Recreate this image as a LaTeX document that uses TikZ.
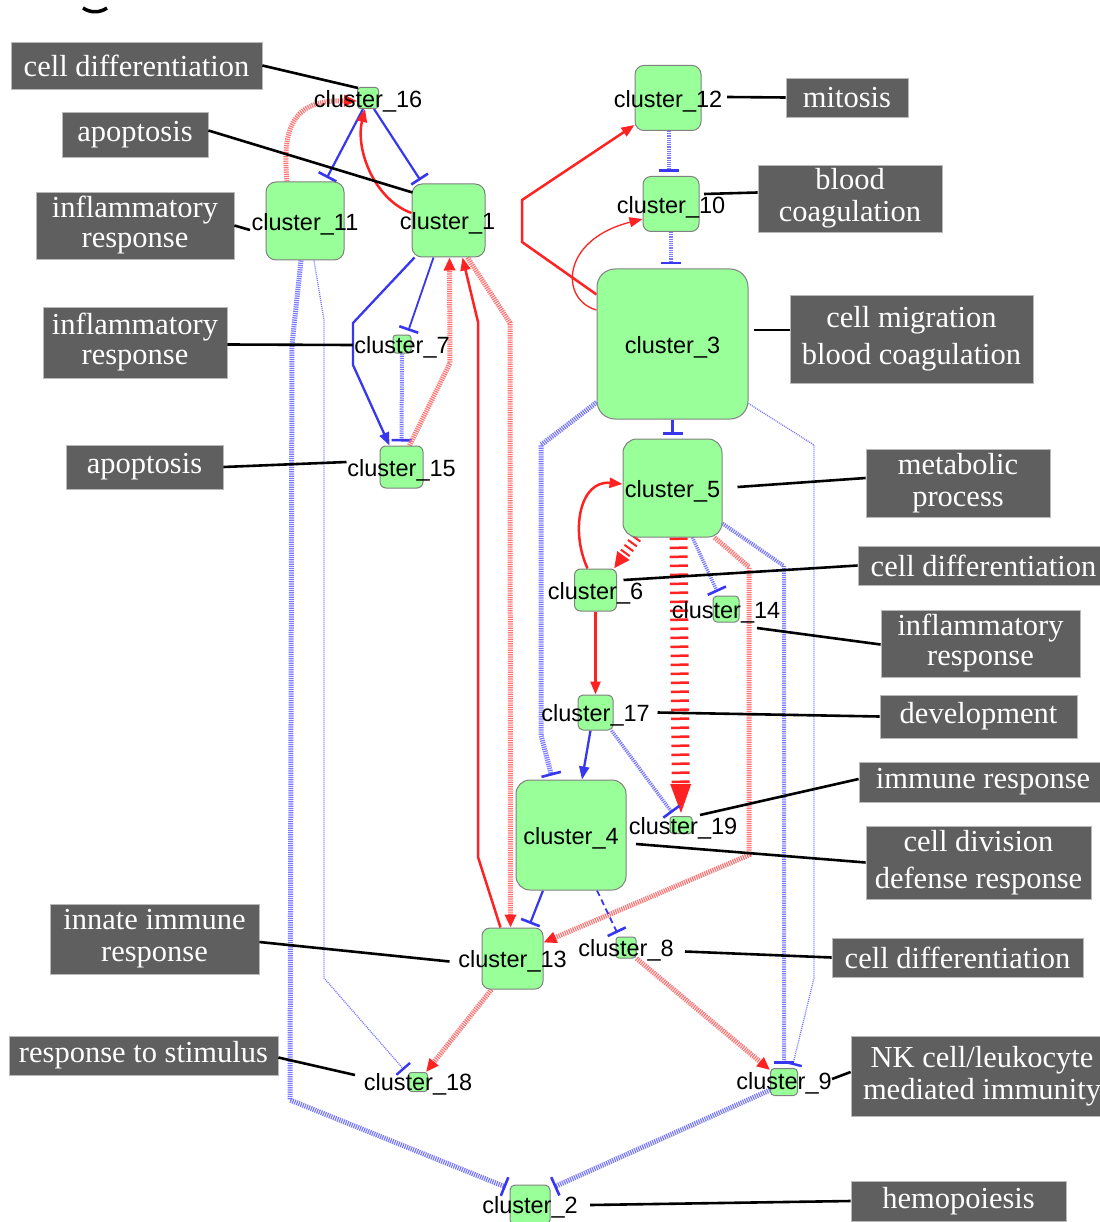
\documentclass[tikz,border=0pt]{standalone}
\usepackage{fontspec}
\setmainfont{Liberation Serif}
\newfontfamily\lsans{Liberation Sans}
\usetikzlibrary{arrows.meta,calc}
\definecolor{redS}{RGB}{255,34,34}
\definecolor{blueS}{RGB}{55,55,240}
\definecolor{pred}{RGB}{255,115,115}
\definecolor{pblue}{RGB}{120,120,255}
\definecolor{ngreen}{RGB}{153,255,153}
\definecolor{nborder}{RGB}{128,128,128}
\definecolor{anngray}{RGB}{95,95,95}
\pgfdeclarelayer{bg}
\pgfsetlayers{bg,main}
\begin{document}
\begin{tikzpicture}[x=1pt,y=-1pt,
 cl/.style={draw=nborder, fill=ngreen, line width=1pt, inner sep=0pt},
 ctext/.style={font=\lsans\fontsize{23.5pt}{26pt}\selectfont, inner sep=0pt, text=black},
 ann/.style={fill=anngray, draw=gray!55, line width=0.8pt, text=white, align=center, inner sep=0pt, font=\fontsize{30.5pt}{32pt}\selectfont},
 annwide/.style={ann, font=\fontsize{30.5pt}{37pt}\selectfont},
 lead/.style={line width=2.6pt, draw=black},
 act/.style={draw=redS, line width=2.5pt, -{Triangle[length=13pt,width=10pt]}},
 tact/.style={draw=redS, line width=1.3pt, -{Triangle[length=13pt,width=10pt]}},
 bact/.style={draw=blueS, line width=2.3pt, -{Triangle[length=13pt,width=10pt]}},
 inh/.style={draw=blueS, line width=2.2pt, -{Bar[width=20pt,line width=2.6pt]}, shorten >=4pt},
 pact/.style={draw=pred, line width=5pt, dash pattern=on 1.2pt off 1pt, -{Triangle[length=13pt,width=11pt,color=redS]}},
 pinh/.style={draw=pblue, line width=5pt, dash pattern=on 1.2pt off 1pt, -{Bar[width=20pt,line width=2.6pt,color=blueS]}, shorten >=4pt},
 tinh/.style={draw=pblue, line width=1.3pt, dash pattern=on 1pt off 1pt, -{Bar[width=18pt,line width=2.4pt,color=blueS]}, shorten >=3pt},
 ladder/.style={draw=redS, line width=18pt, dash pattern=on 2.5pt off 6.5pt, -{Triangle[length=32pt,width=18pt,color=redS]}},
 ladsmall/.style={draw=redS, line width=11pt, dash pattern=on 2pt off 4pt, -{Triangle[length=16pt,width=14pt,color=redS]}}
]
\useasboundingbox (0,0) rectangle (1099,1222);
\begin{pgfonlayer}{bg}
\fill[white] (0,0) rectangle (1099,1222);
\end{pgfonlayer}

% small black mark at top
\draw[line width=3.5pt] (83,8) .. controls (90,13) and (100,13) .. (107,8);

% cluster boxes
\node[cl, minimum width=21pt, minimum height=21pt, rounded corners=3pt] (c16) at (368,98) {};
\node[cl, minimum width=78pt, minimum height=78pt, rounded corners=10pt] (c11) at (305,221) {};
\node[cl, minimum width=73pt, minimum height=73pt, rounded corners=10pt] (c1) at (448.5,220.5) {};
\node[cl, minimum width=18pt, minimum height=18pt, rounded corners=3pt] (c7) at (402,344) {};
\node[cl, minimum width=43pt, minimum height=42pt, rounded corners=6pt] (c15) at (401.5,467) {};
\node[cl, minimum width=66pt, minimum height=65pt, rounded corners=9pt] (c12) at (668,98) {};
\node[cl, minimum width=56pt, minimum height=55pt, rounded corners=8pt] (c10) at (671,204) {};
\node[cl, minimum width=151pt, minimum height=150pt, rounded corners=18pt] (c3) at (672.5,344) {};
\node[cl, minimum width=99pt, minimum height=98pt, rounded corners=14pt] (c5) at (672.5,488) {};
\node[cl, minimum width=42pt, minimum height=42pt, rounded corners=6pt] (c6) at (595.5,590) {};
\node[cl, minimum width=26pt, minimum height=26pt, rounded corners=4pt] (c14) at (726,609) {};
\node[cl, minimum width=35pt, minimum height=35pt, rounded corners=5pt] (c17) at (595.5,712.5) {};
\node[cl, minimum width=22pt, minimum height=17pt, rounded corners=3pt] (c19) at (681,825) {};
\node[cl, minimum width=110pt, minimum height=110pt, rounded corners=14pt] (c4) at (571,835) {};
\node[cl, minimum width=61pt, minimum height=61pt, rounded corners=8pt] (c13) at (512.5,958.5) {};
\node[cl, minimum width=20pt, minimum height=21pt, rounded corners=3pt] (c8) at (626,947.5) {};
\node[cl, minimum width=19pt, minimum height=19pt, rounded corners=3pt] (c18) at (418,1082) {};
\node[cl, minimum width=27pt, minimum height=27pt, rounded corners=4pt] (c9) at (784,1082) {};
\node[cl, minimum width=40pt, minimum height=40pt, rounded corners=5pt] (c2) at (530,1205) {};

% annotation boxes
\node[ann, minimum width=251pt, minimum height=47pt] (A1) at (136.5,65.5) {cell differentiation};
\node[ann, minimum width=146pt, minimum height=45pt] (A2) at (135,134.5) {apoptosis};
\node[ann, minimum width=198pt, minimum height=67pt] (A3) at (135,225.5) {\raisebox{-2pt}{inflammatory}\\response};
\node[ann, minimum width=184pt, minimum height=71pt] (A4) at (135,342.5) {\raisebox{-2pt}{inflammatory}\\response};
\node[ann, minimum width=157pt, minimum height=44pt] (A5) at (144.5,467) {apoptosis};
\node[ann, minimum width=122pt, minimum height=39pt] (A6) at (847,97.5) {mitosis};
\node[ann, minimum width=184pt, minimum height=67pt] (A7) at (850,198.5) {blood\\coagulation};
\node[annwide, minimum width=243pt, minimum height=88pt] (A8) at (911.5,339) {cell migration\\blood coagulation};
\node[ann, minimum width=184pt, minimum height=68pt] (A9) at (958,483) {metabolic\\process};
\node[ann, minimum width=251pt, minimum height=39pt] (A10) at (983.5,565.5) {cell differentiation};
\node[ann, minimum width=199pt, minimum height=67pt] (A11) at (980.5,643.5) {\raisebox{-2pt}{inflammatory}\\response};
\node[ann, minimum width=197pt, minimum height=43pt] (A12) at (978.5,716.5) {development};
\node[ann, minimum width=248pt, minimum height=40pt] (A13) at (983,782) {immune response};
\node[annwide, minimum width=225pt, minimum height=73pt] (A14) at (978.5,862.5) {cell division\\defense response};
\node[ann, minimum width=251pt, minimum height=39pt] (A15) at (957.5,957.5) {cell differentiation};
\node[ann, minimum width=209pt, minimum height=70pt] (A16) at (154.5,939) {innate immune\\response};
\node[ann, minimum width=269pt, minimum height=39pt] (A17) at (143.5,1055.5) {response to stimulus};
\node[ann, minimum width=262pt, minimum height=80pt] (A18) at (982,1076) {NK cell/leukocyte\\mediated immunity};
\node[ann, minimum width=215pt, minimum height=40pt] (A19) at (958.5,1201) {hemopoiesis};

% edges
\begin{pgfonlayer}{bg}
\draw[pact] ($(c11.north)+(-18,0)$) .. controls (281,120) and (298,100) .. ($(c16.west)+(0,3)$);
\draw[inh] ($(c16.south)+(-5,0)$) -- ($(c11.north)+(20,0)$);
\draw[inh] ($(c16.south)+(6,0)$) -- ($(c1.north)+(-26,0)$);
\draw[act] ($(c1.west)+(0,-7.5)$) .. controls (375,200) and (355,150) .. ($(c16.south)+(-3,0)$);
\draw[bact] ($(c1.south west)+(3,0)$) -- (353,323) -- (353,365) -- ($(c15.north)+(-12,0)$);
\draw[inh, line width=1.8pt] ($(c1.south)+(-15,0)$) -- ($(c7.north)+(5,0)$);
\draw[pinh, line width=4pt] (c7.south) -- (c15.north);
\draw[pact] ($(c15.north)+(8,0)$) -- (450,363) -- ($(c1.south)+(1,0)$);
\draw[act] ($(c13.north)+(-12,0)$) -- (478,857) -- (478,322) -- ($(c1.south)+(14,0)$);
\draw[pact] ($(c1.south east)+(-18,0)$) -- (510,323) -- ($(c13.north)+(-2,0)$);
\draw[pinh] ($(c11.south)+(-4,0)$) -- (292,345) -- (290,1100) -- ($(c2.north west)+(0,4)$);
\draw[tinh] ($(c11.south)+(9,0)$) -- (324,320) -- (324,978) -- ($(c18.north west)+(-2,0)$);
\draw[act] ($(c3.north west)+(0,26)$) -- (522,242) -- (522,200) -- ($(c12.south west)+(0,-6)$);
\draw[tact] ($(c3.west)+(0,-34)$) .. controls (560,300) and (560,240) .. ($(c10.west)+(0,15)$);
\draw[pinh, line width=4pt] ($(c12.south)+(1,0)$) -- ($(c10.north)+(-2,0)$);
\draw[pinh, line width=4pt] (c10.south) -- ($(c3.north)+(-1.5,0)$);
\draw[inh] (c3.south) -- (c5.north);
\draw[pinh] ($(c3.south west)+(0,-17)$) -- (541,445) -- (541,735) -- ($(c4.north west)+(37,0)$);
\draw[tinh] ($(c3.south east)+(0,-16)$) -- (814,445) -- (814,978) -- ($(c9.north)+(8,0)$);
\draw[pinh, line width=4pt] ($(c5.south east)+(0,-14)$) -- (784,566) -- (c9.north);
\draw[pact] ($(c5.south east)+(-8,0)$) -- (749,567) -- (749,855) -- ($(c13.east)+(0,-16)$);
\draw[pinh, line width=3.5pt] ($(c5.south)+(20,0)$) -- ($(c14.north)+(-7,0)$);
\draw[ladsmall] ($(c5.south west)+(14,0)$) -- ($(c6.north east)+(-3,0)$);
\draw[act] ($(c6.north)+(-8,0)$) .. controls (570,530) and (580,480) .. ($(c5.west)+(0,-4)$);
\draw[ladder] ($(c5.south)+(6,0)$) -- (c19.north);
\draw[act] (c6.south) -- (c17.north);
\draw[bact] ($(c17.south)+(-5,0)$) -- ($(c4.north)+(11,0)$);
\draw[pinh, line width=3.5pt] ($(c17.south east)+(-2,0)$) -- ($(c19.north west)+(5,0)$);
\draw[inh] ($(c4.south)+(-28,0)$) -- ($(c13.north)+(16,0)$);
\draw[inh, dash pattern=on 6pt off 4pt, line width=1.8pt] ($(c4.south)+(26,0)$) -- ($(c8.north)+(-7,0)$);
\draw[pact] ($(c13.south west)+(10,0)$) -- ($(c18.north east)+(-2,0)$);
\draw[pact] (c8.south east) -- ($(c9.north west)+(0,2)$);
\draw[pinh] ($(c9.south west)+(0,-6)$) -- ($(c2.north east)+(0,4)$);
\end{pgfonlayer}

% leader lines
\draw[lead] (A1.east) -- ($(c16)+(-10,-10)$);
\draw[lead] ($(A2.east)+(0,-4)$) -- ($(c1)+(-36,-28)$);
\draw[lead] (A3.east) -- ($(c11)+(-55,9)$);
\draw[lead] ($(A4.east)+(0,2)$) -- ($(c7)+(-49,1)$);
\draw[lead] (A5.east) -- ($(c15)+(-55,-5)$);
\draw[lead] (A6.west) -- ($(c12)+(59,-1)$);
\draw[lead] ($(A7.west)+(0,-6)$) -- ($(c10)+(33,-10)$);
\draw[lead] ($(A8.west)+(0,-9)$) -- ($(c3)+(81,-14)$);
\draw[lead] ($(A9.west)+(0,-5)$) -- ($(c5)+(65,-1)$);
\draw[lead] (A10.west) -- ($(c6)+(28,-10)$);
\draw[lead] ($(A11.west)+(0,1)$) -- ($(c14)+(31,19)$);
\draw[lead] (A12.west) -- ($(c17)+(62,0)$);
\draw[lead] ($(A13.west)+(0,-3)$) -- ($(c19)+(19,-10)$);
\draw[lead] (A14.west) -- ($(c4)+(65,9)$);
\draw[lead] (A15.west) -- ($(c8)+(59,4)$);
\draw[lead] ($(A16.east)+(0,3)$) -- ($(c13)+(-63,3)$);
\draw[lead] ($(A17.east)+(0,2)$) -- ($(c18)+(-63,-7)$);
\draw[lead] ($(A18.west)+(0,-4)$) -- ($(c9)+(48,-3)$);
\draw[lead] (A19.west) -- ($(c2)+(60,0)$);

% cluster labels
\node[ctext] (t16) at ($(c16)+(0,3)$) {cluster\_16};
\node[ctext] (t11) at ($(c11)+(0,3)$) {cluster\_11};
\node[ctext] (t1) at ($(c1)+(-1,3)$) {cluster\_1};
\node[ctext] (t7) at ($(c7)+(0,3)$) {cluster\_7};
\node[ctext] (t15) at ($(c15)+(0,3)$) {cluster\_15};
\node[ctext] (t12) at ($(c12)+(0,3)$) {cluster\_12};
\node[ctext] (t10) at ($(c10)+(0,3)$) {cluster\_10};
\node[ctext] (t3) at ($(c3)+(0,3)$) {cluster\_3};
\node[ctext] (t5) at ($(c5)+(0,3)$) {cluster\_5};
\node[ctext] (t6) at ($(c6)+(0,3)$) {cluster\_6};
\node[ctext] (t14) at ($(c14)+(0,3)$) {cluster\_14};
\node[ctext] (t17) at ($(c17)+(0,3)$) {cluster\_17};
\node[ctext] (t19) at ($(c19)+(2,3)$) {cluster\_19};
\node[ctext] (t4) at ($(c4)+(0,3)$) {cluster\_4};
\node[ctext] (t13) at ($(c13)+(0,3)$) {cluster\_13};
\node[ctext] (t8) at ($(c8)+(0,3)$) {cluster\_8};
\node[ctext] (t18) at ($(c18)+(0,2)$) {cluster\_18};
\node[ctext] (t9) at ($(c9)+(0,1)$) {cluster\_9};
\node[ctext] (t2) at ($(c2)+(0,2)$) {cluster\_2};
\end{tikzpicture}
\end{document}
